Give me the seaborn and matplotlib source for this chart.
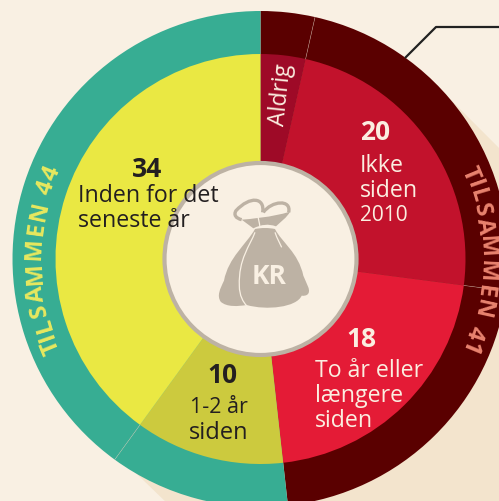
import numpy as np
import matplotlib
matplotlib.use('Agg')
import matplotlib.pyplot as plt
import seaborn as sns
from matplotlib.patches import Circle, Polygon, PathPatch
from matplotlib.path import Path
from matplotlib.textpath import TextPath
from matplotlib.font_manager import FontProperties

# answers, clockwise from the top
segment_values = [3, 20, 18, 10, 34]
inner_colors = ['#9e0a27', '#c2122c', '#e41b36', '#ccca3e', '#eae843']
outer_colors = ['#5a0000', '#5a0000', '#5a0000', '#37ad93', '#37ad93']
group_labels = ['TILSAMMEN 41', 'TILSAMMEN 44']
group_colors = ['#e9836f', '#e8e85e']

BG = '#f9f0e3'
SHADOW = '#f3e4cd'
BAG = '#bdb2a4'
FONT = 'Open Sans'

sns.set_theme(style='white', rc={'figure.facecolor': BG, 'axes.facecolor': BG})
plt.rcParams['font.family'] = [FONT, 'DejaVu Sans']

fig = plt.figure(figsize=(4.99, 5.02), dpi=100)
ax = fig.add_axes([0, 0, 1, 1])
cx, cy = 260.5, 260

# long shadow behind the ring
ax.add_patch(Polygon([(436, 86), (936, 586), (640, 960), (86, 426)], closed=True,
                     fc=SHADOW, ec='none', zorder=0))

# y axis is inverted below, so counterclock here comes out clockwise on screen
ax.pie(segment_values, colors=outer_colors, radius=248, center=(cx, cy), startangle=-90,
       counterclock=True, wedgeprops={'linewidth': 0})
ax.pie(segment_values, colors=inner_colors, radius=205, center=(cx, cy), startangle=-90,
       counterclock=True, wedgeprops={'linewidth': 0})

# thin seams in the outer ring
total = sum(segment_values)
for i in [0, 1, 3]:
    a = np.radians(sum(segment_values[:i + 1]) / total * 360)
    ax.plot([cx + 205 * np.sin(a), cx + 248 * np.sin(a)],
            [cy - 205 * np.cos(a), cy - 248 * np.cos(a)],
            color='#d8c8b8', lw=0.4, alpha=0.6, zorder=3)

ax.add_patch(Circle((cx, cy), 96, fc=BG, ec=BAG, lw=3, zorder=4))

# callout line
ax.plot([405, 436, 499], [59, 28, 28], color='#222222', lw=1.6, zorder=1,
        solid_capstyle='butt')


# money bag, outline traced in zoomed pixels of the crop
def z(x, y):
    return (200 + x / 3, 180 + y / 3)


def bag_shape(points, codes, **kw):
    ax.add_patch(PathPatch(Path([z(*p) for p in points], codes), zorder=5, **kw))


M, C, L, Z = Path.MOVETO, Path.CURVE4, Path.LINETO, Path.CLOSEPOLY
# body with both lobes in one outline
bag_shape([(165, 150), (140, 195), (85, 235), (72, 305), (60, 330), (50, 350), (62, 368),
           (80, 385), (115, 382), (140, 378), (200, 395), (290, 385), (305, 350),
           (320, 352), (332, 345), (325, 325), (318, 310), (315, 300), (310, 290),
           (295, 220), (245, 190), (225, 150), (205, 146), (185, 146), (165, 150), (165, 150)],
          [M, C, C, C, C, C, C, C, C, C, C, C, C, C, C, C, C, C, C, C, C, C, C, C, C, Z],
          fc=BAG, ec='none')
# neck
bag_shape([(125, 122), (150, 120), (215, 115), (270, 98), (262, 115), (240, 130), (228, 142),
           (205, 134), (185, 136), (160, 148), (150, 140), (135, 130), (125, 122), (125, 122)],
          [M, C, C, C, C, C, C, C, C, C, C, C, C, Z], fc=BAG, ec='none')
# tied loops
bag_shape([(188, 100), (195, 55), (150, 50), (108, 95), (100, 108), (108, 118), (125, 122)],
          [M, C, C, C, C, C, C], fc='none', ec=BAG, lw=2.4)
bag_shape([(190, 100), (215, 65), (275, 60), (266, 100)],
          [M, C, C, C], fc='none', ec=BAG, lw=2.4)
# folds in the cloth
bag_shape([(165, 160), (150, 200), (115, 240), (118, 320), (118, 350), (130, 370), (140, 380)],
          [M, C, C, C, C, C, C], fc='none', ec=BG, lw=0.9)
bag_shape([(225, 160), (232, 180), (238, 190), (245, 205)],
          [M, C, C, C], fc='none', ec=BG, lw=0.9)
bag_shape([(172, 108), (176, 120), (178, 130), (180, 146)],
          [M, C, C, C], fc='none', ec=BG, lw=0.9)

ax.text(269, 277, 'KR', color=BG, fontsize=19, fontweight='bold', ha='center', va='center', zorder=6)


def label(x, y, s, color, size=16.7, weight='normal', ha='left', rotation=0):
    ax.text(x, y + 2, s, color=color, fontsize=size, fontweight=weight, ha=ha, va='center',
            rotation=rotation, rotation_mode='anchor', zorder=6)


DARK = '#231f20'
LIGHT = '#fbeee0'
label(147, 168, '34', DARK, 19, 'bold', 'center')
label(78, 194, 'Inden for det', DARK)
label(78, 219, 'seneste år', DARK)
label(222, 374, '10', DARK, 19, 'bold', 'center')
label(219, 406, '1-2 år', DARK, 15.5, ha='center')
label(219, 431, 'siden', DARK, 17, ha='center')
label(375, 131, '20', LIGHT, 19, 'bold', 'center')
label(360, 164, 'Ikke', LIGHT)
label(360, 189, 'siden', LIGHT)
label(360, 214, '2010', LIGHT, 15)
label(361, 338, '18', LIGHT, 19, 'bold', 'center')
label(315, 369, 'To år eller', LIGHT)
label(315, 394, 'længere', LIGHT)
label(315, 419, 'siden', LIGHT)
label(281, 93, 'Aldrig', LIGHT, 16.5, ha='center', rotation=84)


# ring captions, one letter at a time along the arc
def arc_text(s, mid_deg, color, radius=226, size=17, spacing=1.1):
    prop = FontProperties(family=FONT, weight='bold', size=size)
    scale = 100 / 72
    widths = []
    for i in range(len(s)):
        w = TextPath((0, 0), s[:i + 1] + '|', prop=prop).get_extents().x1 \
            - TextPath((0, 0), s[:i] + '|', prop=prop).get_extents().x1
        widths.append(w * scale * spacing)
    run = np.sum(widths)
    pos = -run / 2
    for ch, w in zip(s, widths):
        a = np.radians(mid_deg + np.degrees((pos + w / 2) / radius))
        x, y = cx + radius * np.sin(a), cy - radius * np.cos(a)
        ax.text(x, y, ch, color=color, fontproperties=prop, ha='center', va='center',
                rotation=-np.degrees(a), rotation_mode='anchor', zorder=6)
        pos += w


arc_text(group_labels[1], 270, group_colors[1])
arc_text(group_labels[0], 90, group_colors[0])

ax.set_xlim(0, 499)
ax.set_ylim(502, 0)
ax.set_aspect('auto')
ax.axis('off')
fig.savefig('out.png', dpi=100, facecolor=BG)
